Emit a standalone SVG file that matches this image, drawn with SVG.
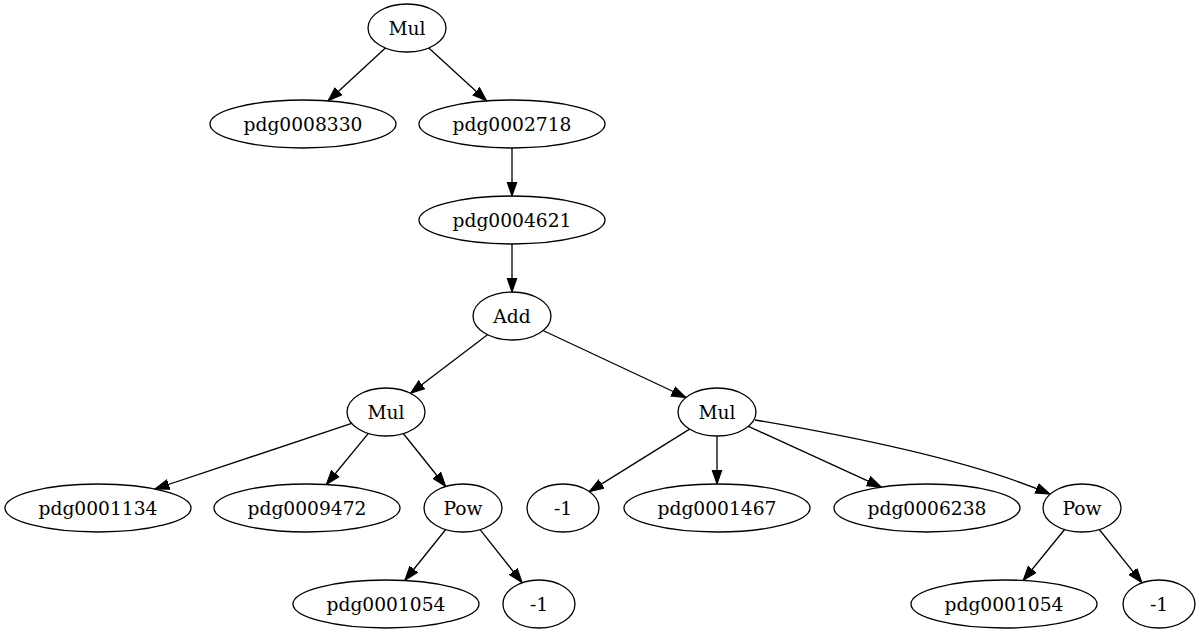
<svg xmlns="http://www.w3.org/2000/svg" width="1199" height="635" viewBox="0 0 1199 635">
<style>
.n ellipse{fill:none;stroke:#000;stroke-width:1.3}
.n text{font-family:"DejaVu Serif","Liberation Serif",serif;font-size:18.67px;text-anchor:middle;fill:#000}
#edges path{fill:none;stroke:#000;stroke-width:1.3;marker-end:url(#arr)}
</style>
<defs>
<marker id="arr" markerUnits="userSpaceOnUse" markerWidth="15" markerHeight="12" viewBox="0 0 14 10" refX="13.5" refY="5" orient="auto">
<path d="M0,0.3 L13.5,5 L0,9.7 z" fill="#000" stroke="#000" stroke-width="1"/>
</marker>
</defs>
<rect width="1199" height="635" fill="#fff"/>
<g id="edges">
<path d="M385.4,48 L328,100.9"/>
<path d="M428.8,48 L486.7,100.9"/>
<path d="M512,148 L512,196"/>
<path d="M512,244 L512,292"/>
<path d="M487.5,334.7 L410.5,393.3"/>
<path d="M543,330.5 L686,397.5"/>
<path d="M351.7,423.4 L154.9,489"/>
<path d="M368.4,433.4 L326.3,484.5"/>
<path d="M403.3,433.5 L445.7,486.5"/>
<path d="M445.7,529.5 L404.8,580.5"/>
<path d="M480.1,529.6 L522.2,582.8"/>
<path d="M689.6,429.1 L589.3,491.6"/>
<path d="M717,436 L717,484"/>
<path d="M748.3,426.3 L881.3,487.1"/>
<path d="M755,420 C850,436 970,460 1050,494"/>
<path d="M1064.6,529.5 L1023.1,580.5"/>
<path d="M1099.3,529.5 L1142,582.8"/>
</g>
<g id="mul0" class="n"><ellipse cx="407" cy="28" rx="39" ry="24"/><text x="407" y="34.5">Mul</text></g>
<g id="p8330" class="n"><ellipse cx="303" cy="124" rx="93" ry="24"/><text x="303" y="130.5">pdg0008330</text></g>
<g id="p2718" class="n"><ellipse cx="512" cy="124" rx="93" ry="24"/><text x="512" y="130.5">pdg0002718</text></g>
<g id="p4621" class="n"><ellipse cx="512" cy="220" rx="93" ry="24"/><text x="512" y="226.5">pdg0004621</text></g>
<g id="add" class="n"><ellipse cx="512" cy="316" rx="39" ry="24"/><text x="512" y="322.5">Add</text></g>
<g id="mulL" class="n"><ellipse cx="386" cy="412" rx="39" ry="24"/><text x="386" y="418.5">Mul</text></g>
<g id="mulR" class="n"><ellipse cx="717" cy="412" rx="39" ry="24"/><text x="717" y="418.5">Mul</text></g>
<g id="p1134" class="n"><ellipse cx="98" cy="508" rx="93" ry="24"/><text x="98" y="514.5">pdg0001134</text></g>
<g id="p9472" class="n"><ellipse cx="307" cy="508" rx="93" ry="24"/><text x="307" y="514.5">pdg0009472</text></g>
<g id="powL" class="n"><ellipse cx="463" cy="508" rx="39" ry="24"/><text x="463" y="514.5">Pow</text></g>
<g id="m1a" class="n"><ellipse cx="563" cy="508" rx="36" ry="24"/><text x="563" y="514.5">-1</text></g>
<g id="p1467" class="n"><ellipse cx="717" cy="508" rx="93" ry="24"/><text x="717" y="514.5">pdg0001467</text></g>
<g id="p6238" class="n"><ellipse cx="927" cy="508" rx="93" ry="24"/><text x="927" y="514.5">pdg0006238</text></g>
<g id="powR" class="n"><ellipse cx="1082" cy="508" rx="39" ry="24"/><text x="1082" y="514.5">Pow</text></g>
<g id="p1054a" class="n"><ellipse cx="386" cy="604" rx="93" ry="24"/><text x="386" y="610.5">pdg0001054</text></g>
<g id="m1b" class="n"><ellipse cx="539" cy="604" rx="36" ry="24"/><text x="539" y="610.5">-1</text></g>
<g id="p1054b" class="n"><ellipse cx="1004" cy="604" rx="93" ry="24"/><text x="1004" y="610.5">pdg0001054</text></g>
<g id="m1c" class="n"><ellipse cx="1159" cy="604" rx="36" ry="24"/><text x="1159" y="610.5">-1</text></g>
</svg>
